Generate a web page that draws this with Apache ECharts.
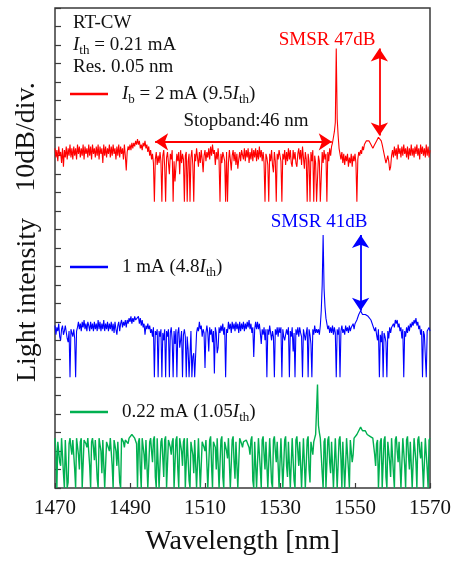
<!DOCTYPE html>
<html>
<head>
<meta charset="utf-8">
<script src="https://cdn.jsdelivr.net/npm/echarts@6/dist/echarts.min.js"></script>
<style>
  html, body { margin: 0; padding: 0; background: #fff; }
  #chart { width: 454px; height: 561px; }
</style>
</head>
<body>
<div id="chart"></div>
<script>
// Optical spectra of the laser at three bias currents, stacked with a
// 10 dB/div vertical scale (y units are dB on a shared stacked scale).
// OSA sweep grid: 1470-1570 nm, one sample every 0.25 nm (20 samples per row below).
const startNm = 1470, stepNm = 0.25, sampleCount = 401;
const wavelengths = Array.from({ length: sampleCount }, (_, i) => startNm + i * stepNm);

// Ib = 2 mA (9.5 Ith)
const spectrum2mA = [
  184, 179, 183, 177, 185, 180, 182, 176, 184, 174, 183, 179, 185, 178, 184, 180, 186, 179, 184, 178,
  185, 180, 184, 178, 186, 181, 185, 179, 184, 180, 186, 178, 185, 181, 184, 179, 186, 180, 185, 178,
  186, 181, 184, 179, 185, 180, 186, 178, 185, 181, 184, 176, 186, 180, 185, 179, 184, 181, 186, 179,
  185, 180, 186, 181, 184, 178, 185, 180, 186, 179, 185, 181, 184, 178, 186, 180, 172, 182, 185, 183,
  186, 183, 187, 184, 187, 185, 188, 186, 189, 186, 188, 184, 186, 183, 187, 185, 188, 184, 186, 182,
  185, 180, 183, 178, 181, 176, 155, 178, 182, 175, 180, 176, 182, 177, 155, 180, 183, 174, 155, 179,
  182, 176, 170, 181, 178, 183, 155, 177, 166, 174, 181, 177, 182, 170, 183, 176, 181, 178, 155, 180,
  182, 155, 177, 181, 155, 179, 183, 175, 155, 181, 177, 184, 179, 174, 182, 176, 183, 178, 171, 180,
  183, 177, 182, 179, 184, 178, 185, 180, 186, 181, 183, 175, 182, 178, 184, 177, 155, 181, 176, 182,
  181, 177, 155, 182, 155, 176, 183, 178, 172, 180, 183, 177, 182, 175, 181, 173, 178, 182, 177, 183,
  182, 178, 184, 177, 183, 179, 184, 176, 182, 178, 184, 177, 183, 179, 184, 177, 183, 178, 185, 179,
  183, 177, 182, 176, 155, 181, 179, 175, 155, 181, 177, 183, 175, 171, 182, 177, 155, 181, 178, 183,
  182, 177, 155, 181, 178, 183, 175, 182, 177, 184, 178, 183, 176, 174, 183, 178, 182, 176, 174, 181,
  184, 178, 183, 175, 185, 179, 173, 182, 178, 155, 181, 177, 155, 182, 177, 183, 155, 180, 176, 155,
  155, 180, 177, 155, 155, 182, 176, 183, 178, 181, 155, 182, 177, 184, 180, 185, 187, 190, 193, 198,
  238, 200, 191, 184, 181, 178, 182, 176, 181, 175, 180, 177, 181, 174, 179, 176, 181, 174, 180, 177,
  181, 176, 155, 178, 182, 180, 183, 181, 185, 183, 186, 185, 188, 187, 189, 188, 187, 186, 185, 184,
  185, 186, 187, 188, 189, 190, 191, 190, 188, 186, 185, 181, 182, 176, 175, 180, 177, 172, 174, 180,
  183, 179, 185, 180, 184, 178, 186, 181, 184, 179, 185, 180, 186, 181, 184, 179, 185, 178, 184, 180,
  186, 180, 184, 179, 185, 181, 186, 180, 184, 178, 186, 181, 185, 180, 184, 179, 186, 180, 185, 179,
  183
];

// 1 mA (4.8 Ith)
const spectrum1mA = [
  88, 83, 87, 85, 89, 82, 80, 86, 88, 83, 85, 88, 87, 81, 79, 85, 60, 86, 84, 82,
  86, 81, 60, 85, 87, 90, 86, 89, 85, 90, 87, 91, 86, 89, 85, 90, 88, 85, 90, 86,
  89, 85, 90, 86, 89, 85, 91, 86, 90, 85, 89, 86, 91, 85, 89, 86, 90, 85, 89, 86,
  90, 85, 89, 84, 90, 86, 83, 88, 90, 85, 89, 91, 87, 90, 88, 91, 87, 91, 89, 92,
  90, 93, 89, 92, 90, 93, 91, 92, 90, 93, 89, 92, 88, 91, 87, 89, 83, 88, 86, 89,
  86, 88, 84, 86, 82, 87, 60, 85, 83, 86, 60, 85, 82, 86, 60, 84, 80, 86, 60, 85,
  82, 86, 60, 84, 87, 80, 60, 85, 78, 86, 60, 84, 87, 76, 80, 85, 60, 83, 86, 82,
  60, 82, 75, 60, 60, 85, 60, 71, 73, 60, 60, 84, 87, 85, 90, 86, 88, 82, 86, 84,
  65, 84, 88, 84, 74, 87, 83, 86, 79, 85, 62, 87, 84, 73, 76, 87, 84, 88, 85, 89,
  83, 87, 60, 86, 84, 90, 86, 89, 84, 90, 86, 89, 85, 90, 86, 89, 84, 90, 85, 89,
  86, 90, 85, 89, 86, 90, 87, 91, 86, 89, 84, 87, 71, 86, 90, 86, 90, 86, 89, 84,
  78, 86, 83, 87, 80, 86, 60, 86, 83, 88, 84, 80, 85, 82, 60, 86, 83, 87, 82, 87,
  84, 87, 60, 86, 82, 80, 79, 86, 83, 87, 60, 85, 82, 87, 74, 84, 60, 86, 83, 87,
  82, 87, 84, 82, 60, 86, 83, 80, 84, 87, 60, 86, 83, 78, 60, 86, 83, 88, 84, 86,
  84, 86, 83, 88, 96, 110, 137, 108, 98, 92, 89, 86, 88, 84, 87, 84, 88, 83, 87, 84,
  60, 86, 83, 87, 60, 85, 88, 84, 86, 83, 88, 85, 87, 84, 88, 85, 87, 86, 89, 86,
  89, 90, 91, 92, 94, 95, 96, 95, 94, 93, 93, 94, 94, 93, 93, 92, 92, 91, 90, 88,
  89, 85, 87, 83, 80, 86, 60, 83, 79, 85, 60, 84, 82, 79, 60, 85, 81, 87, 84, 87,
  86, 89, 87, 91, 89, 91, 87, 89, 85, 87, 81, 86, 60, 85, 82, 87, 84, 88, 85, 89,
  87, 90, 88, 91, 89, 92, 88, 90, 86, 88, 83, 86, 60, 85, 83, 82, 60, 85, 84, 87,
  85
];

// 0.22 mA (1.05 Ith)
const spectrum022mA = [
  27, 20, 0, 25, 26, 14, 12, 27, 28, 8, 0, 26, 25, 0, 3, 24, 27, 22, 18, 26,
  26, 10, 0, 27, 28, 18, 10, 25, 27, 0, 0, 26, 26, 24, 22, 27, 28, 12, 0, 25,
  27, 22, 15, 26, 26, 5, 0, 27, 28, 20, 8, 26, 27, 0, 0, 25, 26, 24, 20, 27,
  28, 12, 0, 26, 27, 20, 12, 25, 26, 3, 0, 27, 28, 25, 22, 26, 27, 26, 24, 27,
  27, 28, 29, 28, 28, 27, 26, 24, 0, 25, 27, 10, 0, 27, 28, 18, 10, 26, 26, 0,
  0, 25, 27, 20, 14, 26, 28, 6, 0, 27, 26, 0, 0, 25, 27, 16, 6, 26, 28, 0,
  0, 26, 26, 22, 18, 25, 27, 0, 0, 26, 28, 10, 0, 27, 26, 20, 12, 25, 27, 0,
  0, 27, 28, 4, 0, 25, 26, 18, 8, 26, 27, 0, 0, 27, 28, 0, 0, 25, 26, 22,
  20, 26, 27, 0, 0, 26, 28, 12, 0, 25, 26, 22, 10, 27, 27, 0, 0, 26, 28, 6,
  0, 25, 26, 20, 16, 27, 27, 0, 0, 26, 28, 14, 5, 25, 26, 0, 0, 27, 27, 24,
  22, 25, 24, 26, 26, 27, 27, 22, 18, 26, 28, 4, 0, 25, 26, 0, 0, 27, 27, 10,
  0, 26, 28, 18, 10, 25, 26, 0, 0, 27, 27, 3, 0, 26, 28, 20, 14, 25, 26, 0,
  0, 27, 27, 0, 0, 26, 28, 12, 6, 25, 26, 0, 0, 27, 27, 4, 0, 26, 28, 20,
  12, 25, 26, 0, 0, 27, 27, 0, 0, 26, 28, 10, 3, 25, 26, 18, 25, 27, 29, 30,
  56, 34, 30, 27, 26, 8, 0, 25, 27, 0, 0, 26, 28, 14, 8, 25, 26, 0, 0, 27,
  27, 0, 0, 26, 28, 16, 0, 25, 26, 0, 12, 27, 27, 10, 0, 26, 26, 14, 18, 27,
  26, 27, 29, 30, 31, 32, 33, 32, 31, 30, 30, 31, 30, 29, 29, 29, 28, 28, 27, 27,
  27, 18, 12, 24, 26, 0, 0, 25, 27, 0, 0, 26, 28, 6, 0, 25, 26, 14, 6, 27,
  27, 8, 0, 26, 28, 20, 14, 25, 26, 0, 0, 27, 27, 12, 0, 26, 28, 18, 10, 25,
  26, 0, 0, 27, 27, 14, 0, 26, 28, 20, 16, 25, 26, 0, 0, 27, 27, 10, 0, 26,
  27
];

[spectrum2mA, spectrum1mA, spectrum022mA].forEach((s, k) => {
  if (s.length !== sampleCount) throw new Error('spectrum ' + k + ' has ' + s.length + ' samples');
});

const xTicks = [1470, 1490, 1510, 1530, 1550, 1570];

// Stopband edges and side-mode suppression markers (nm, dB on the stacked scale)
const stopband = { from: 1496.7, to: 1543.8, level: 187.5 };
const smsr2mA = { at: 1556.5, peak: 238, side: 191 };
const smsr1mA = { at: 1551.5, peak: 137, side: 96 };

const RED = '#ff0000', BLUE = '#0000ff', GREEN = '#00b050', INK = '#111111';
const SERIF = '"Liberation Serif", "Times New Roman", serif';

function toPairs(values) {
  return wavelengths.map((w, i) => [w, values[i]]);
}

function arrowLine(color, pairs) {
  return {
    silent: true,
    animation: false,
    symbol: ['arrow', 'arrow'],
    symbolSize: 13,
    label: { show: false },
    emphasis: { disabled: true },
    lineStyle: { color: color, width: 1.8, type: 'solid' },
    data: pairs
  };
}

function spectrumSeries(name, values, color, width, markLine) {
  const s = {
    name: name,
    type: 'line',
    data: toPairs(values),
    showSymbol: false,
    symbol: 'none',
    silent: true,
    animation: false,
    lineStyle: { color: color, width: width },
    z: 2
  };
  if (markLine) s.markLine = markLine;
  return s;
}

function richStyles(color) {
  return {
    n: { fontFamily: SERIF, fontSize: 19, fill: color },
    i: { fontFamily: SERIF, fontSize: 19, fontStyle: 'italic', fill: color },
    s: { fontFamily: SERIF, fontSize: 13, fill: color, padding: [12, 0, 0, 0], verticalAlign: 'bottom' }
  };
}

function label(x, y, text, color, align) {
  return {
    type: 'text', x: x, y: y, silent: true, z: 10,
    style: {
      text: text, rich: richStyles(color || INK),
      font: '19px ' + SERIF, fill: color || INK,
      align: align || 'left', verticalAlign: 'middle'
    }
  };
}

function legendLine(y, color) {
  return {
    type: 'line', silent: true, z: 10,
    shape: { x1: 70, y1: y, x2: 108, y2: y },
    style: { stroke: color, lineWidth: 2.5 }
  };
}

const chart = echarts.init(document.getElementById('chart'), null, { renderer: 'canvas' });

chart.setOption({
  animation: false,
  backgroundColor: '#ffffff',
  grid: {
    left: 55, right: 24, top: 8, bottom: 72,
    show: true, borderColor: '#3a3a3a', borderWidth: 1.5, backgroundColor: 'transparent'
  },
  xAxis: {
    type: 'value', min: xTicks[0], max: xTicks[xTicks.length - 1], interval: 20,
    axisLine: { show: false },
    axisTick: { inside: true, length: 5, lineStyle: { color: '#3a3a3a', width: 1.2 } },
    axisLabel: { fontFamily: SERIF, fontSize: 21, color: INK, margin: 10, formatter: (v) => String(v) },
    splitLine: { show: false },
    name: 'Wavelength [nm]', nameLocation: 'middle', nameGap: 40,
    nameTextStyle: { fontFamily: SERIF, fontSize: 28, color: INK }
  },
  yAxis: {
    type: 'value', min: 0, max: 260, interval: 10,
    axisLine: { show: false },
    axisTick: { inside: true, length: 6, lineStyle: { color: '#3a3a3a', width: 1.2 } },
    axisLabel: { show: false },
    splitLine: { show: false }
  },
  series: [
    spectrumSeries('0.22 mA', spectrum022mA, GREEN, 1.4),
    spectrumSeries('1 mA', spectrum1mA, BLUE, 1.1, arrowLine(BLUE, [
      [{ coord: [smsr1mA.at, smsr1mA.peak] }, { coord: [smsr1mA.at, smsr1mA.side] }]
    ])),
    spectrumSeries('2 mA', spectrum2mA, RED, 1.1, arrowLine(RED, [
      [{ coord: [stopband.from, stopband.level] }, { coord: [stopband.to, stopband.level] }],
      [{ coord: [smsr2mA.at, smsr2mA.peak] }, { coord: [smsr2mA.at, smsr2mA.side] }]
    ]))
  ],
  graphic: [
    label(73, 23, 'RT-CW'),
    label(73, 45, '{i|I}{s|th}{n| = 0.21 mA}'),
    label(73, 67, 'Res. 0.05 nm'),
    legendLine(94, RED),
    label(122, 94, '{i|I}{s|b}{n| = 2 mA (9.5}{i|I}{s|th}{n|)}'),
    legendLine(267, BLUE),
    label(122, 267, '{n|1 mA (4.8}{i|I}{s|th}{n|)}'),
    legendLine(412, GREEN),
    label(122, 412, '{n|0.22 mA (1.05}{i|I}{s|th}{n|)}'),
    label(327, 40, 'SMSR 47dB', RED, 'center'),
    label(246, 121, 'Stopband:46 nm', INK, 'center'),
    label(319, 222, 'SMSR 41dB', BLUE, 'center'),
    {
      type: 'text', x: 28, y: 300, rotation: Math.PI / 2, silent: true,
      style: { text: 'Light intensity', font: '28px ' + SERIF, fill: INK, align: 'center', verticalAlign: 'middle' }
    },
    {
      type: 'text', x: 27, y: 137, rotation: Math.PI / 2, silent: true,
      style: { text: '10dB/div.', font: '28px ' + SERIF, fill: INK, align: 'center', verticalAlign: 'middle' }
    }
  ]
});
</script>
</body>
</html>
